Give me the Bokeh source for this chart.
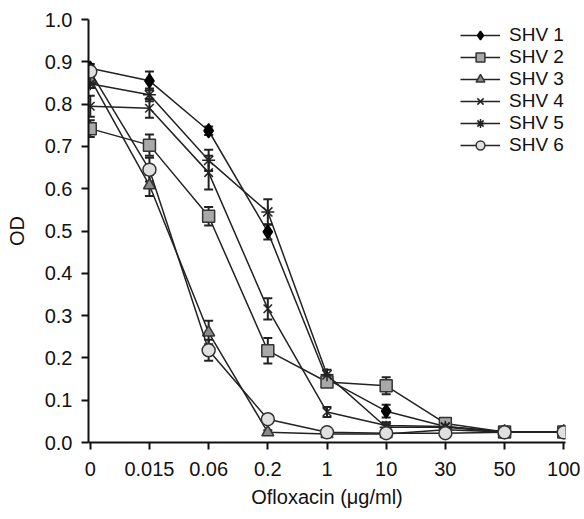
from bokeh.plotting import figure
from bokeh.models import (ColumnDataSource, Whisker, TeeHead, FixedTicker, Range1d,
                          Legend, LegendItem)
from bokeh.embed import file_html
from bokeh.resources import INLINE

categories = ["0", "0.015", "0.06", "0.2", "1", "10", "30", "50", "100"]
x_pos = list(range(len(categories)))

shv1 = [0.885, 0.855, 0.737, 0.498, 0.150, 0.074, 0.038, 0.025, 0.025]
shv2 = [0.742, 0.703, 0.535, 0.217, 0.143, 0.134, 0.045, 0.025, 0.025]
shv3 = [0.860, 0.608, 0.260, 0.024, 0.020, 0.020, 0.030, 0.025, 0.025]
shv4 = [0.795, 0.790, 0.638, 0.316, 0.072, 0.040, 0.038, 0.025, 0.025]
shv5 = [0.848, 0.822, 0.667, 0.545, 0.160, 0.036, 0.036, 0.025, 0.025]
shv6 = [0.877, 0.645, 0.218, 0.055, 0.024, 0.022, 0.022, 0.024, 0.024]

err1 = [0.010, 0.022, 0.010, 0.018, 0.010, 0.015, 0.005, 0.004, 0.004]
err2 = [0.020, 0.025, 0.022, 0.030, 0.012, 0.020, 0.005, 0.004, 0.004]
err3 = [0.010, 0.025, 0.028, 0.005, 0.004, 0.004, 0.004, 0.004, 0.004]
err4 = [0.025, 0.022, 0.040, 0.025, 0.012, 0.008, 0.005, 0.004, 0.004]
err5 = [0.010, 0.015, 0.025, 0.030, 0.012, 0.006, 0.005, 0.004, 0.004]
err6 = [0.012, 0.028, 0.025, 0.008, 0.004, 0.004, 0.004, 0.004, 0.004]

FONT = "Liberation Sans"

p = figure(width=584, height=519, output_backend="svg", toolbar_location=None,
           x_range=Range1d(-0.03, 8.03), y_range=Range1d(0, 1.0),
           min_border_left=88, min_border_right=19, min_border_top=19, min_border_bottom=77)
p.outline_line_color = None
p.xgrid.visible = False
p.ygrid.visible = False
p.background_fill_color = "white"

series = [
    ("SHV 1", shv1, err1, "diamond", 14, "black", "black"),
    ("SHV 2", shv2, err2, "square", 12, "#a8a8a8", "#333333"),
    ("SHV 3", shv3, err3, "triangle", 12, "#8a8a8a", "#333333"),
    ("SHV 4", shv4, err4, "x", 12, None, "#222222"),
    ("SHV 5", shv5, err5, "asterisk", 13, None, "#222222"),
    ("SHV 6", shv6, err6, "circle", 13, "#e0e0e0", "#333333"),
]

items = []
for name, ys, es, marker, size, fill, line in series:
    src = ColumnDataSource(dict(x=x_pos, y=ys,
                                lo=[a - b for a, b in zip(ys, es)],
                                hi=[a + b for a, b in zip(ys, es)]))
    p.add_layout(Whisker(source=src, base="x", lower="lo", upper="hi",
                         line_color="#222222", line_width=2,
                         upper_head=TeeHead(size=9, line_color="#222222", line_width=2),
                         lower_head=TeeHead(size=9, line_color="#222222", line_width=2)))
    l = p.line("x", "y", source=src, line_color="#222222", line_width=1.5)
    kw = dict(source=src, marker=marker, size=size, line_color=line, line_width=1.5)
    if fill is None:
        kw["fill_alpha"] = 0
    else:
        kw["fill_color"] = fill
    s = p.scatter("x", "y", **kw)
    items.append(LegendItem(label=name, renderers=[l, s]))

legend = Legend(items=items, location=(372, 286), padding=0, margin=0,
                border_line_alpha=0, background_fill_alpha=0,
                glyph_width=40, glyph_height=22, label_height=22, spacing=0,
                label_standoff=9, label_text_font=FONT, label_text_font_size="19px",
                label_text_color="#111111")
p.add_layout(legend)

p.xaxis.ticker = FixedTicker(ticks=x_pos)
p.xaxis.major_label_overrides = {i: c for i, c in enumerate(categories)}
p.yaxis.ticker = FixedTicker(ticks=[i / 10 for i in range(11)])
p.yaxis.major_label_overrides = {i / 10: f"{i/10:.1f}" for i in range(11)}

for ax in (p.xaxis[0], p.yaxis[0]):
    ax.axis_line_width = 2
    ax.axis_line_color = "#111111"
    ax.major_tick_line_width = 2
    ax.major_tick_line_color = "#111111"
    ax.major_tick_out = 7
    ax.major_tick_in = 0
    ax.minor_tick_line_color = None
    ax.major_label_text_font = FONT
    ax.major_label_text_font_size = "20px"
    ax.major_label_text_color = "#111111"
    ax.axis_label_text_font = FONT
    ax.axis_label_text_font_size = "20px"
    ax.axis_label_text_font_style = "normal"
    ax.axis_label_text_color = "#111111"

p.xaxis.axis_label = "Ofloxacin (μg/ml)"
p.yaxis.axis_label = "OD"
p.xaxis.major_label_standoff = 12
p.yaxis.major_label_standoff = 9
p.xaxis.axis_label_standoff = 7
p.yaxis.axis_label_standoff = 14

open("out.html", "w").write(file_html(p, INLINE))
